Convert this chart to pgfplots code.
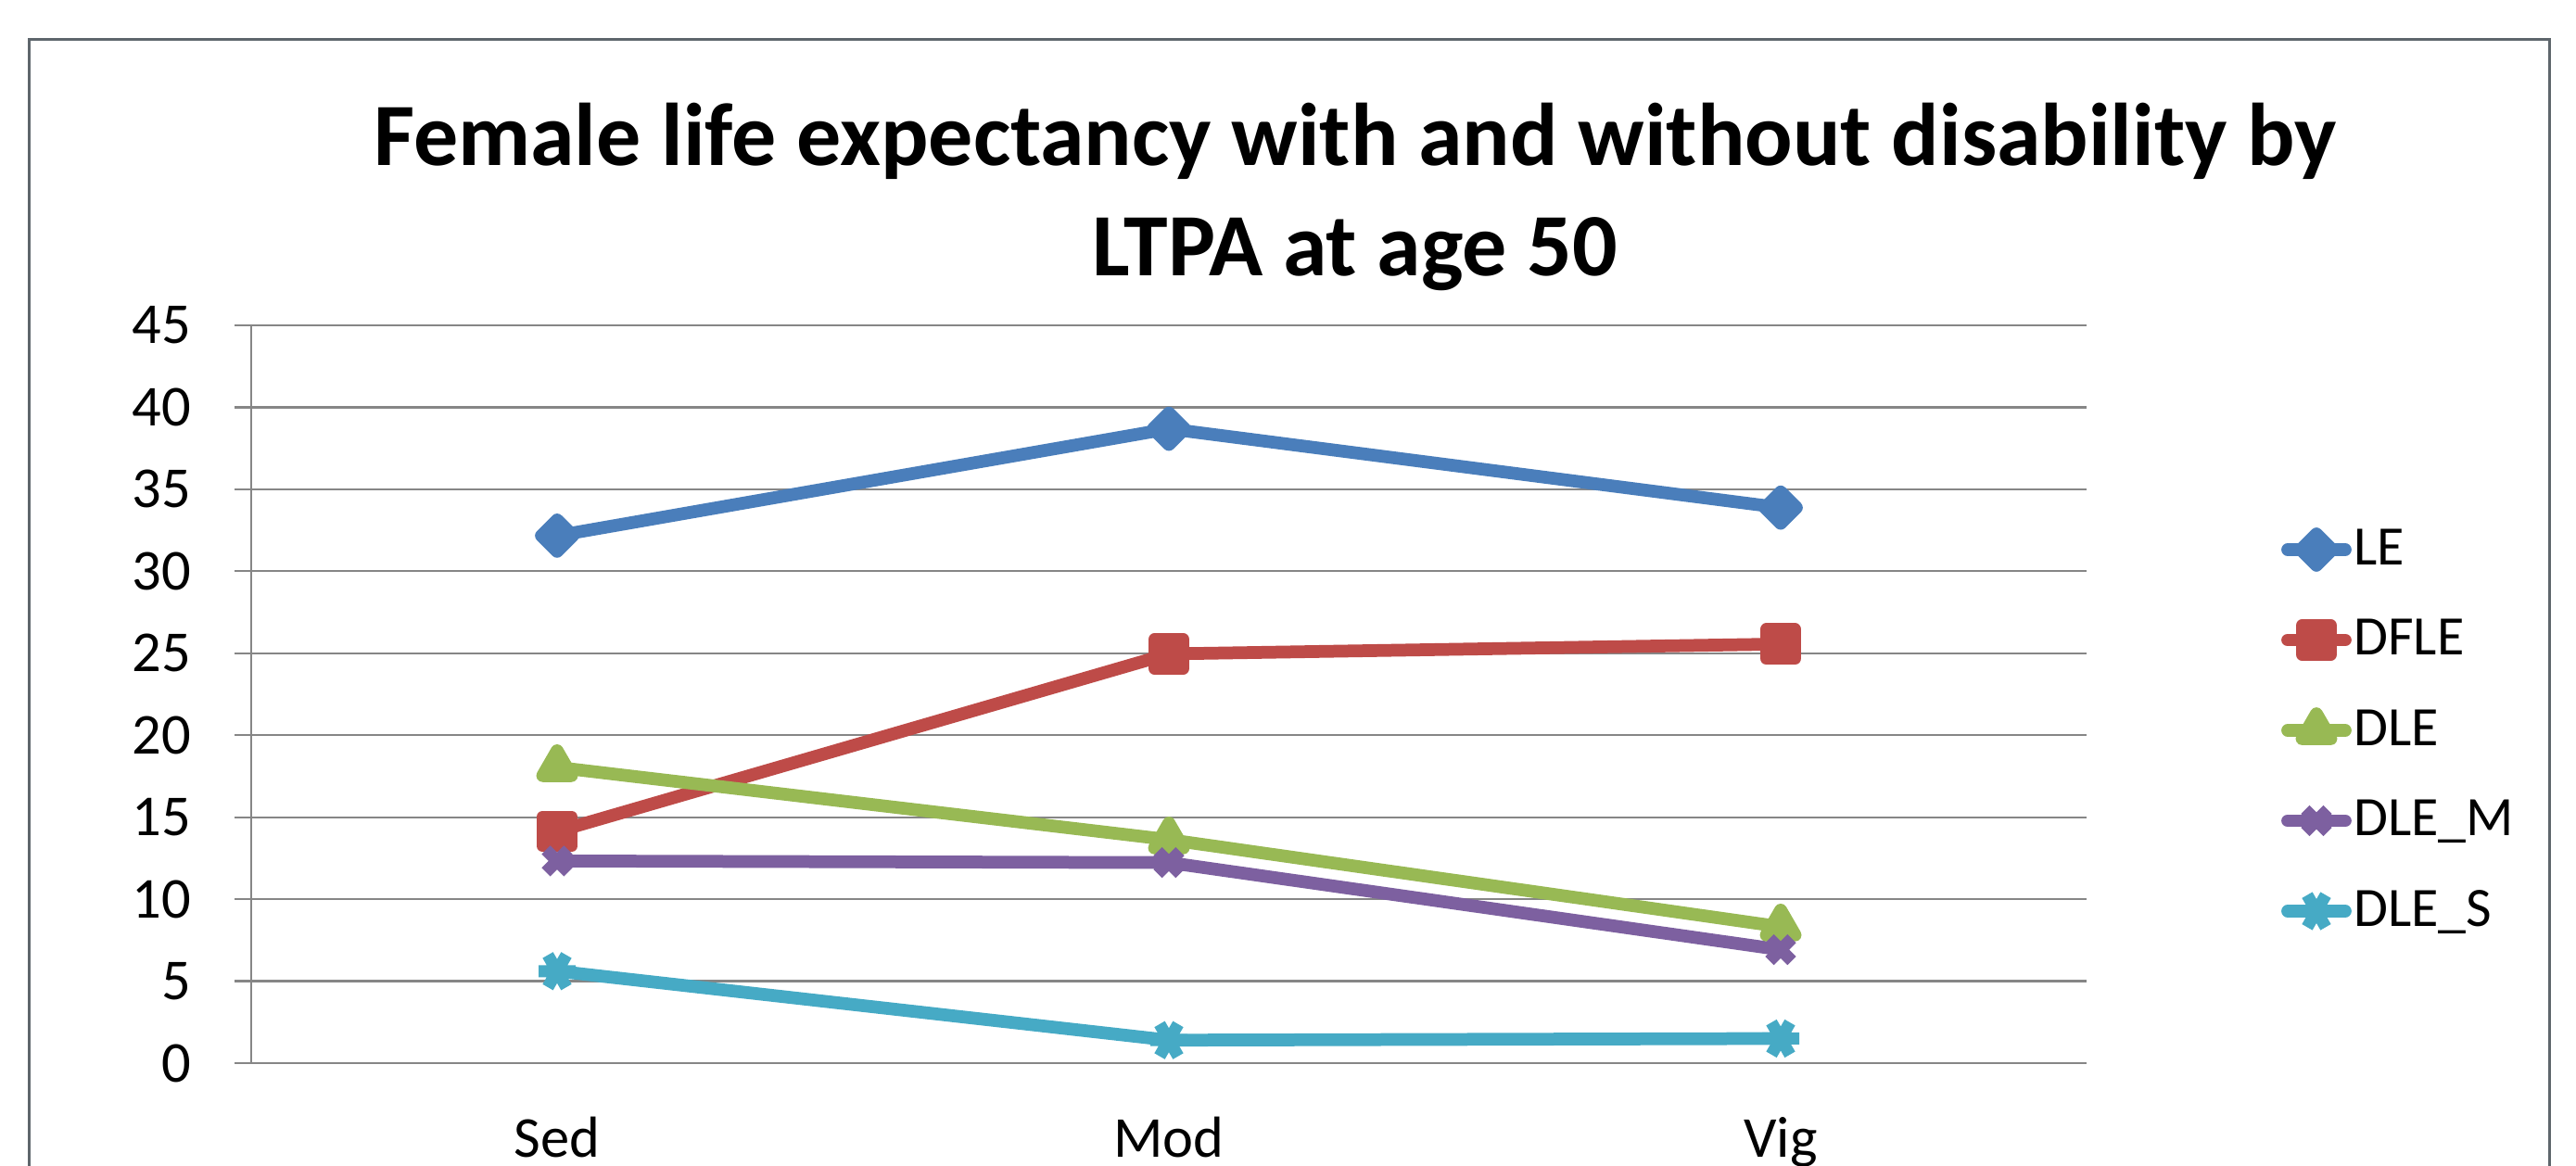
\documentclass[border=0pt]{standalone}
\usepackage{pgfplots}
\pgfplotsset{compat=1.18}
\usepackage{fontspec}
\setmainfont{Carlito}

\definecolor{cLE}{HTML}{4A7EBB}
\definecolor{cDFLE}{HTML}{BE4B48}
\definecolor{cDLE}{HTML}{98B954}
\definecolor{cDLEM}{HTML}{7D60A0}
\definecolor{cDLES}{HTML}{46AAC5}
\definecolor{gridgray}{HTML}{868686}
\definecolor{framegray}{HTML}{5E666C}

\begin{document}
\begin{tikzpicture}
% page area (the reference is cut off at the bottom)
\useasboundingbox (-54.2pt,-22pt) rectangle (501.6pt,229.4pt);
\draw[framegray, line width=0.6pt] (-47.8pt,-40pt) rectangle (495.8pt,220.8pt);

\begin{axis}[
    at={(0pt,0pt)}, anchor=south west,
    scale only axis,
    width=396pt,
    height=159.2pt,
    xmin=0.5, xmax=3.5,
    ymin=0, ymax=45,
    xtick={1,2,3},
    xticklabels={Sed,Mod,Vig},
    extra x ticks={0.5,1.5,2.5,3.5},
    extra x tick labels={},
    extra x tick style={major tick length=4pt, grid=none},
    ytick={0,5,...,45},
    axis x line=bottom,
    axis y line=left,
    axis line style={gridgray, line width=0.45pt, -},
    major tick length=3.5pt,
    tick align=outside,
    tick style={gridgray, line width=0.45pt},
    xtick style={draw=none},
    ymajorgrids=true,
    grid style={gridgray, line width=0.45pt},
    /pgf/number format/assume math mode=true,
    tick label style={font=\fontsize{12.5}{14}\selectfont},
    yticklabel style={xshift=-6pt},
    xticklabel style={yshift=-4.6pt, text depth=0pt},
    clip=false,
    legend cell align=left,
    legend style={draw=none, fill=none, at={(1.1056,0.451)}, anchor=west,
        font=\fontsize{12}{14}\selectfont, row sep=8pt,
        inner sep=0pt,
        nodes={inner sep=0.5pt, text height=8.5pt, text depth=2pt}},
    legend image code/.code={
        \draw[mark repeat=2, mark phase=2] plot coordinates {(0pt,0pt) (6.2pt,0pt) (12.4pt,0pt)};
    },
]
\addplot[cLE, line width=2.75pt, line join=round, line cap=round, mark=square*, mark size=2.4pt,
    mark options={rotate=45, solid, line join=round}]
    coordinates {(1,32.17) (2,38.69) (3,33.88)};
\addlegendentry{LE}
\addplot[cDFLE, line width=2.75pt, line join=round, line cap=round, mark=square*, mark size=3.1pt,
    mark options={solid, line join=round}]
    coordinates {(1,14.13) (2,24.96) (3,25.56)};
\addlegendentry{DFLE}
\addplot[cDLE, line width=2.75pt, line join=round, line cap=round, mark=triangle*, mark size=3.6pt,
    mark options={solid, line join=round}]
    coordinates {(1,18.04) (2,13.63) (3,8.32)};
\addlegendentry{DLE}
\addplot[cDLEM, line width=2.75pt, line join=round, line cap=round, mark=x, mark size=3.4pt,
    mark options={solid, line width=2.6pt, line cap=butt}]
    coordinates {(1,12.33) (2,12.23) (3,6.92)};
\addlegendentry{DLE\_M}
\addplot[cDLES, line width=2.75pt, line join=round, line cap=round, mark=asterisk, mark size=4pt,
    mark options={solid, rotate=90, line width=2.6pt, line cap=butt}]
    coordinates {(1,5.61) (2,1.40) (3,1.50)};
\addlegendentry{DLE\_S}
\end{axis}

\node[anchor=base, font=\fontsize{19.2}{23}\selectfont\bfseries, inner sep=0pt]
    at (238.2pt,193.6pt) {Female life expectancy with and without disability by};
\node[anchor=base, font=\fontsize{19.2}{23}\selectfont\bfseries, inner sep=0pt]
    at (238.2pt,169.8pt) {LTPA at age 50};
\end{tikzpicture}
\end{document}
